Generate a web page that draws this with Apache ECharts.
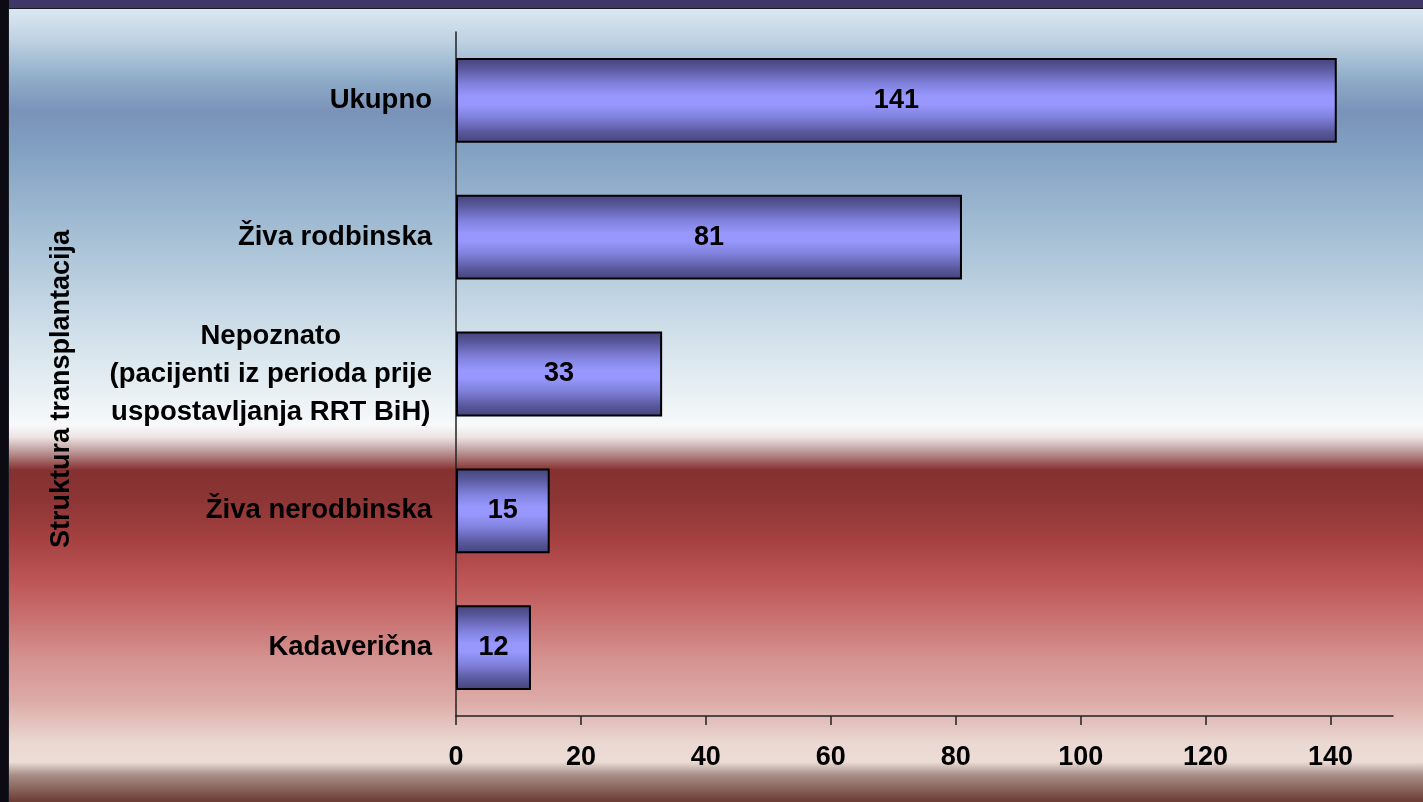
<!DOCTYPE html>
<html>
<head>
<meta charset="utf-8">
<script src="https://cdn.jsdelivr.net/npm/echarts@6/dist/echarts.min.js"></script>
<style>
html,body{margin:0;padding:0;background:#3e3768;}
#c{width:1423px;height:802px;}
</style>
</head>
<body>
<div id="c"></div>
<script>
const categories = ['Ukupno', 'Živa rodbinska', 'Nepoznato\n(pacijenti iz perioda prije\nuspostavljanja RRT BiH)', 'Živa nerodbinska', 'Kadaverična'];
const values = [141, 81, 33, 15, 12];
const xTicks = [0, 20, 40, 60, 80, 100, 120, 140];
const axisTitle = 'Struktura transplantacija';

const FONT = '"Liberation Sans", Arial, sans-serif';
const H = 802, TOP = 9;
const off = y => (y - TOP) / (H - TOP);

const chart = echarts.init(document.getElementById('c'), null, {renderer: 'canvas'});
chart.setOption({
  animation: false,
  backgroundColor: '#3e3768',
  graphic: [
    {type: 'rect', z: -10, silent: true, shape: {x: 0, y: 0, width: 9, height: H}, style: {fill: '#0c0a12'}},
    {type: 'rect', z: -10, silent: true, shape: {x: 8, y: 8, width: 1423, height: H}, style: {fill: '#1a1a22'}},
    {type: 'rect', z: -9, silent: true, shape: {x: 9, y: TOP, width: 1423, height: H - TOP},
      style: {fill: {type: 'linear', x: 0, y: 0, x2: 0, y2: 1, colorStops: [
        {offset: 0, color: '#dbe8f2'},
        {offset: off(40), color: '#bed2e2'},
        {offset: off(80), color: '#8eabc8'},
        {offset: off(112), color: '#7a92b9'},
        {offset: off(150), color: '#82a1c2'},
        {offset: off(250), color: '#abc4d8'},
        {offset: off(330), color: '#cfdfe9'},
        {offset: off(405), color: '#eef3f6'},
        {offset: off(425), color: '#f8f9fb'},
        {offset: off(437), color: '#eee4e4'},
        {offset: off(452), color: '#bb9696'},
        {offset: off(470), color: '#863131'},
        {offset: off(495), color: '#8a3434'},
        {offset: off(535), color: '#a23f3f'},
        {offset: off(580), color: '#bd5555'},
        {offset: off(620), color: '#c97272'},
        {offset: off(660), color: '#d59390'},
        {offset: off(700), color: '#dcaaa6'},
        {offset: off(745), color: '#ebd9d3'},
        {offset: off(762), color: '#ebdcd5'},
        {offset: off(775), color: '#a88e88'},
        {offset: 1, color: '#6a3b33'}
      ]}}},
    {type: 'text', z: 10, silent: true, x: 62, y: 389, rotation: Math.PI / 2,
      style: {text: axisTitle, font: 'bold 27px ' + FONT, fill: '#000', align: 'center', verticalAlign: 'middle'}}
  ],
  grid: {left: 456, right: 30, top: 32, bottom: 86, containLabel: false},
  xAxis: {
    type: 'value', min: 0, max: 150, interval: 20,
    splitLine: {show: false},
    axisLine: {show: true, lineStyle: {color: '#222', width: 1.5}},
    axisTick: {show: true, length: 9, lineStyle: {color: '#222', width: 1.5}, customValues: xTicks},
    axisLabel: {margin: 28, color: '#000', fontWeight: 'bold', fontSize: 27, fontFamily: FONT, customValues: xTicks}
  },
  yAxis: {
    type: 'category', data: categories, inverse: true,
    axisLine: {show: true, lineStyle: {color: '#222', width: 1.5}},
    axisTick: {show: false},
    axisLabel: {
      margin: 24, align: 'right',
      formatter: v => v.split('\n').map(s => '{c|' + s + '}').join('\n'),
      rich: {c: {align: 'center', color: '#000', fontWeight: 'bold', fontSize: 27.5, fontFamily: FONT, lineHeight: 38}}
    }
  },
  series: [{
    type: 'bar', data: values, barCategoryGap: '38%',
    itemStyle: {
      borderColor: '#000', borderWidth: 2,
      color: {type: 'linear', x: 0, y: 0, x2: 0, y2: 1, colorStops: [
        {offset: 0, color: '#45437a'},
        {offset: 0.12, color: '#58579a'},
        {offset: 0.3, color: '#8080dc'},
        {offset: 0.45, color: '#9797fd'},
        {offset: 0.55, color: '#9797fd'},
        {offset: 0.7, color: '#8080dc'},
        {offset: 0.88, color: '#58579a'},
        {offset: 1, color: '#45437a'}
      ]}
    },
    label: {show: true, position: 'inside', color: '#000', fontWeight: 'bold', fontSize: 27, fontFamily: FONT}
  }]
});
</script>
</body>
</html>
